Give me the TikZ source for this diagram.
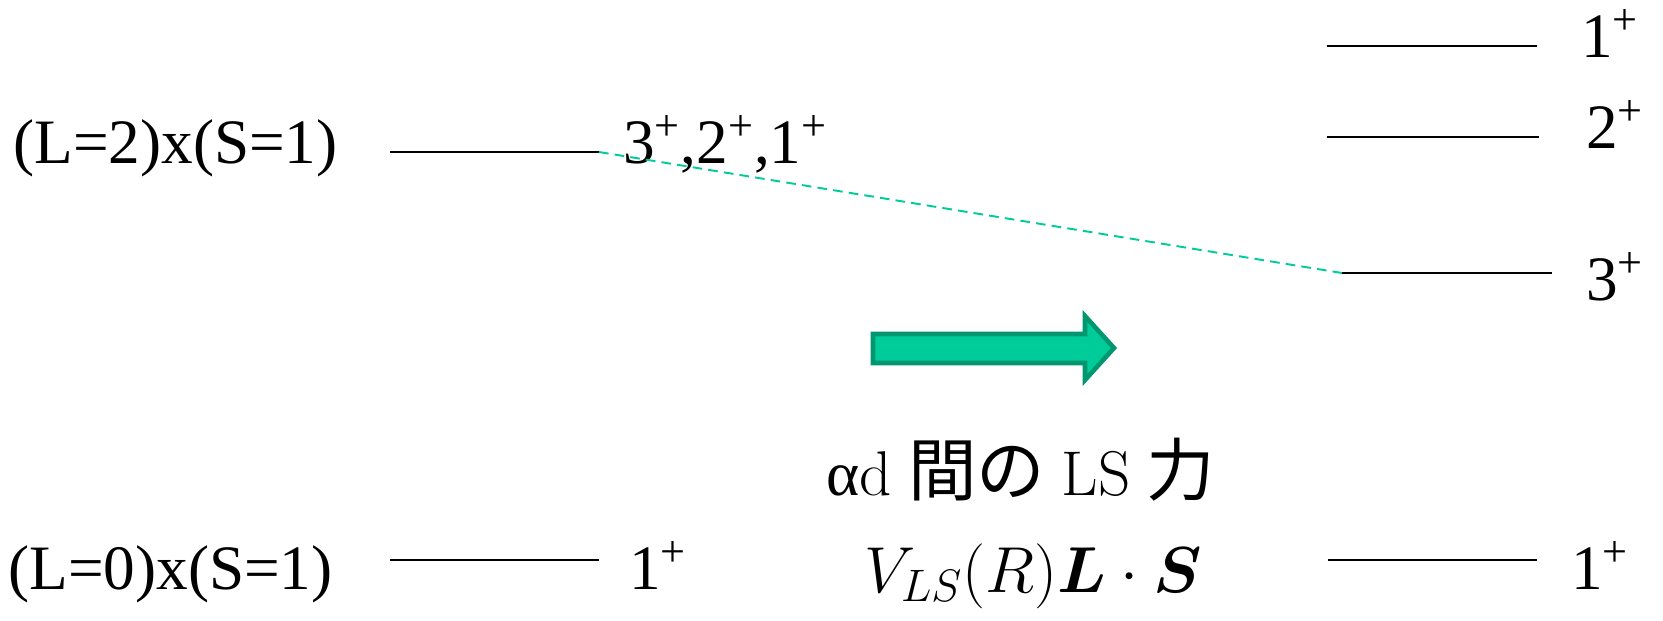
\RequirePackage{fix-cm}
\documentclass[tikz,border=0pt]{standalone}
\usepackage[no-math]{fontspec}
\usepackage{bm}
\setmainfont{Liberation Serif}
\newfontfamily\cjk{Noto Sans CJK JP}
\newfontfamily\lmr{Latin Modern Roman}
\definecolor{lsgreen}{RGB}{0,204,153}
\definecolor{lsdark}{RGB}{0,150,112}
\begin{document}
\begin{tikzpicture}[x=0.02cm,y=-0.02cm,
    level/.style={line width=1.3pt},
    lab/.style={anchor=base west,inner sep=0pt,font=\fontsize{36}{40}\selectfont},
    midlab/.style={anchor=base,inner sep=0pt,font=\fontsize{37}{42}\selectfont}]
  \useasboundingbox (0,0) rectangle (1663,620);
  % 左侧能级
  \coordinate (d2a) at (390,152);
  \coordinate (d2b) at (599,152);
  \coordinate (s0a) at (390,560);
  \coordinate (s0b) at (599,560);
  \draw[level] (d2a) -- (d2b);
  \draw[level] (s0a) -- (s0b);
  \node[lab] (ld2) at (13,163) {(L=2)x(S=1)};
  \node[lab] (ls0) at (8,589) {(L=0)x(S=1)};
  \node[lab] (jd2) at (623,163) {3\textsuperscript{+},2\textsuperscript{+},1\textsuperscript{+}};
  \node[lab] (js0) at (629,589) {1\textsuperscript{+}};
  % 右侧分裂后的能级
  \coordinate (r1a) at (1327,46);
  \coordinate (r1b) at (1537,46);
  \coordinate (r2a) at (1327,137);
  \coordinate (r2b) at (1539,137);
  \coordinate (r3a) at (1342,273);
  \coordinate (r3b) at (1552,273);
  \coordinate (r0a) at (1328,560);
  \coordinate (r0b) at (1537,560);
  \foreach \a/\b in {r1a/r1b,r2a/r2b,r3a/r3b,r0a/r0b}
    \draw[level] (\a) -- (\b);
  \node[lab] (j1) at (1581,57) {1\textsuperscript{+}};
  \node[lab] (j2) at (1586,148) {2\textsuperscript{+}};
  \node[lab] (j3) at (1586,300) {3\textsuperscript{+}};
  \node[lab] (j0) at (1571,589) {1\textsuperscript{+}};
  % 3+ 的连线
  \draw[lsgreen,line width=1.1pt,dash pattern=on 5.5pt off 3.5pt] (d2b) -- (r3a);
  % 中间箭头和说明
  \draw[lsdark,fill=lsgreen,line width=2.6pt,line join=miter]
    (873,334) -- (1085,334) -- (1085,316) -- (1114,348) -- (1085,380)
    -- (1085,363) -- (873,363) -- cycle;
  \node[midlab] (force) at (1021,495)
    {{\fontsize{36}{40}\selectfont α{\lmr d}} {\cjk\fontsize{39}{42}\selectfont 間の} {\lmr\fontsize{36}{40}\selectfont LS} {\cjk\fontsize{39}{42}\selectfont 力}};
  \node[midlab] (vls) at (1033,592) {$V_{LS}(R)\bm{L}\cdot\bm{S}$};
\end{tikzpicture}
\end{document}
